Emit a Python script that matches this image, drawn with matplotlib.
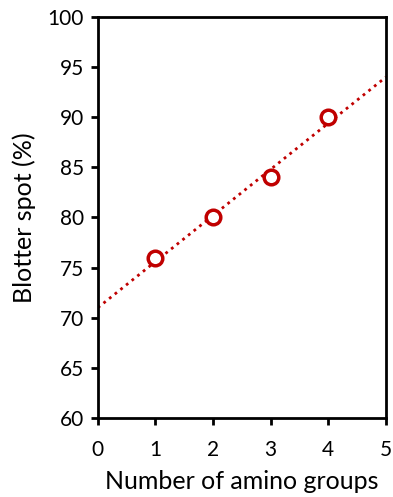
import numpy as np
import matplotlib.pyplot as plt

plt.rcParams['font.family'] = ['Lato', 'DejaVu Sans']

# data
amino_groups = [1, 2, 3, 4]
blotter_spot = [76, 80, 84, 90]
x_ticks = [0, 1, 2, 3, 4, 5]
y_ticks = [60, 65, 70, 75, 80, 85, 90, 95, 100]

red = '#C00000'

fig = plt.figure(figsize=(3.93, 4.97), dpi=100)
ax = fig.add_axes([0.249, 0.159, 0.733, 0.807])

# linear trend line over the full x range
slope, intercept = np.polyfit(amino_groups, blotter_spot, 1)
xs = np.array([0, 5])
ax.plot(xs, slope * xs + intercept, linestyle=(0, (1, 1.6)), color=red, lw=2)

ax.plot(amino_groups, blotter_spot, 'o', mfc='white', mec=red, mew=2.5, ms=10.5)

ax.set_xlim(0, 5)
ax.set_ylim(60, 100)
ax.set_xticks(x_ticks)
ax.set_yticks(y_ticks)
for s in ax.spines.values():
    s.set_linewidth(2)
ax.tick_params(direction='out', length=5, width=2, labelsize=15, colors='black')
ax.tick_params(axis='x', pad=11)
ax.tick_params(axis='y', pad=5)
ax.tick_params(top=False, right=False)
ax.set_xlabel('Number of amino groups', fontsize=18, labelpad=7)
ax.set_ylabel('Blotter spot (%)', fontsize=18, labelpad=8)

fig.savefig('out.png', dpi=100)
